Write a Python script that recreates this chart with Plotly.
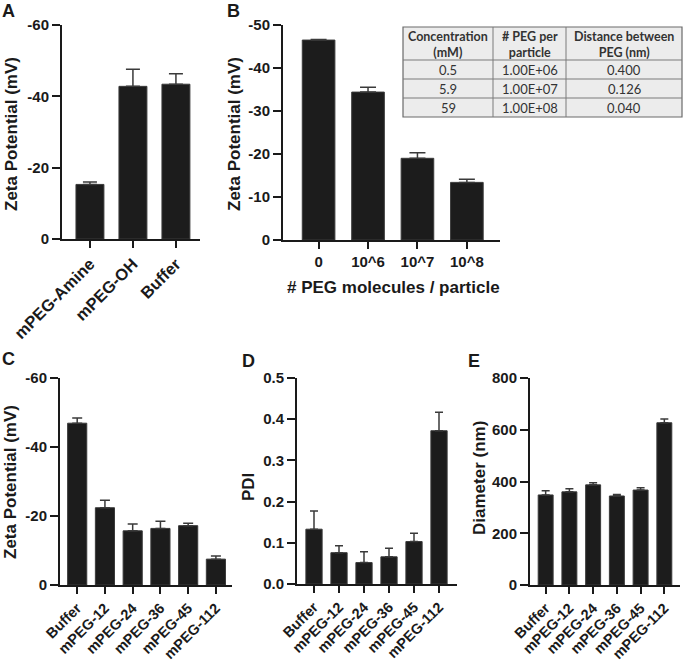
import plotly.graph_objects as go

W, H = 685, 662

# ---------------- data ----------------
# Panel A
a_categories = ["mPEG-Amine", "mPEG-OH", "Buffer"]
a_zeta = [-15.3, -42.8, -43.4]
a_err = [0.7, 4.8, 2.9]
a_ticks = [0, -20, -40, -60]
a_ticklabels = ["0", "-20", "-40", "-60"]

# Panel B
b_categories = ["0", "10^6", "10^7", "10^8"]
b_zeta = [-46.5, -34.4, -19.0, -13.4]
b_err = [0.15, 1.1, 1.3, 0.7]
b_ticks = [0, -10, -20, -30, -40, -50]
b_ticklabels = ["0", "-10", "-20", "-30", "-40", "-50"]

# Table in panel B
table_header = ["Concentration<br>(mM)", "# PEG per<br>particle", "Distance between<br>PEG (nm)"]
table_conc = ["0.5", "5.9", "59"]
table_peg = ["1.00E+06", "1.00E+07", "1.00E+08"]
table_dist = ["0.400", "0.126", "0.040"]

# Panels C, D, E
peg_categories = ["Buffer", "mPEG-12", "mPEG-24", "mPEG-36", "mPEG-45", "mPEG-112"]
c_zeta = [-46.9, -22.4, -15.7, -16.4, -17.2, -7.5]
c_err = [1.5, 2.2, 2.0, 2.1, 0.7, 0.9]
c_ticks = [0, -20, -40, -60]
c_ticklabels = ["0", "-20", "-40", "-60"]

d_pdi = [0.133, 0.076, 0.052, 0.066, 0.103, 0.372]
d_err = [0.044, 0.017, 0.026, 0.021, 0.020, 0.045]
d_ticks = [0, 0.1, 0.2, 0.3, 0.4, 0.5]
d_ticklabels = ["0.0", "0.1", "0.2", "0.3", "0.4", "0.5"]

e_diam = [348, 360, 387, 344, 367, 627]
e_err = [16, 12, 8, 6, 9, 15]
e_ticks = [0, 200, 400, 600, 800]
e_ticklabels = ["0", "200", "400", "600", "800"]

# ---------------- helpers ----------------
def px(x):
    return x / W

def py(y):
    return 1 - y / H

FONT = "Liberation Sans, Arial, sans-serif"
TFONT = "Lato, sans-serif"
BAR_COLOR = "#1c1c1c"
AX_COLOR = "#1a1a1a"
ERR_COLOR = "#3a3a3a"

fig = go.Figure()

def add_bars(cats, vals, errs, xa, ya, width, up_negative=False, capw=5):
    if up_negative:
        err = dict(type="data", symmetric=False, array=[0] * len(errs), arrayminus=errs,
                   color=ERR_COLOR, thickness=1.5, width=capw)
    else:
        err = dict(type="data", symmetric=False, array=errs, arrayminus=[0] * len(errs),
                   color=ERR_COLOR, thickness=1.5, width=capw)
    fig.add_trace(go.Bar(
        x=cats, y=vals, error_y=err, width=width,
        marker=dict(color=BAR_COLOR, line=dict(color="#3a3a3a", width=1)),
        xaxis=xa, yaxis=ya, showlegend=False, hoverinfo="skip"))

add_bars(a_categories, a_zeta, a_err, "x", "y", 0.65, True, 7)
add_bars(b_categories, b_zeta, b_err, "x2", "y2", 0.66, True, 8)
add_bars(peg_categories, c_zeta, c_err, "x3", "y3", 0.69, True, 5)
add_bars(peg_categories, d_pdi, d_err, "x4", "y4", 0.65, False, 4)
add_bars(peg_categories, e_diam, e_err, "x5", "y5", 0.63, False, 4)

tickfont = dict(family=FONT, size=15, color="#1a1a1a", weight="bold")
xtickfont = dict(family=FONT, size=14.5, color="#1a1a1a", weight="bold")

def xaxis(dom, rng, angle, anchor, size=14.5):
    return dict(domain=[px(dom[0]), px(dom[1])], range=rng, anchor=anchor,
                automargin=False,
                showline=True, linecolor=AX_COLOR, linewidth=2,
                ticks="outside", ticklen=7, tickwidth=2, tickcolor=AX_COLOR,
                showgrid=False, zeroline=False, tickangle=angle,
                tickfont=dict(xtickfont, size=size),
                fixedrange=True)

def yaxis(dom, rng, tv, tt, anchor):
    return dict(domain=[py(dom[1]), py(dom[0])], range=rng, anchor=anchor,
                automargin=False,
                tickvals=tv, ticktext=tt,
                showline=True, linecolor=AX_COLOR, linewidth=2,
                ticks="outside", ticklen=8, tickwidth=2, tickcolor=AX_COLOR,
                showgrid=False, zeroline=False, tickfont=tickfont, fixedrange=True)

fig.update_layout(
    template="none",
    width=W, height=H,
    margin=dict(l=0, r=0, t=0, b=0, autoexpand=False),
    paper_bgcolor="white", plot_bgcolor="white",
    font=dict(family=FONT),
    xaxis=xaxis((62, 200), [-0.65, 2.56], -45, "y", 16.5),
    yaxis=yaxis((25, 239), [0, -60], a_ticks, a_ticklabels, "x"),
    xaxis2=xaxis((283, 500), [-0.72, 3.67], 0, "y2", 15),
    yaxis2=yaxis((25, 240), [0, -50], b_ticks, b_ticklabels, "x2"),
    xaxis3=xaxis((60, 232), [-0.62, 5.58], -45, "y3"),
    yaxis3=yaxis((378, 585), [0, -60], c_ticks, c_ticklabels, "x3"),
    xaxis4=xaxis((297, 457), [-0.68, 5.72], -45, "y4"),
    yaxis4=yaxis((378, 584), [0, 0.5], d_ticks, d_ticklabels, "x4"),
    xaxis5=xaxis((530, 680), [-0.66, 5.66], -45, "y5"),
    yaxis5=yaxis((378, 585), [0, 800], e_ticks, e_ticklabels, "x5"),
)

def ann(text, x, y, size, angle=0, family=FONT, bold=True, color="#1a1a1a"):
    fig.add_annotation(text=text, x=px(x), y=py(y), xref="paper", yref="paper",
                       showarrow=False, textangle=angle, xanchor="center", yanchor="middle",
                       font=dict(family=family, size=size, color=color,
                                 weight="bold" if bold else "normal"))

# panel letters
ann("A", 8.5, 10.5, 18)
ann("B", 233, 10.5, 18)
ann("C", 8.5, 359, 18)
ann("D", 248, 361, 18)
ann("E", 474, 361, 18)

# axis titles
ann("Zeta Potential (mV)", 11, 134, 17, -90)
ann("Zeta Potential (mV)", 234, 134, 17, -90)
ann("# PEG molecules / particle", 393, 288, 17)
ann("Zeta Potential (mV)", 10, 482, 17, -90)
ann("PDI", 248, 487, 17, -90)
ann("Diameter (nm)", 479, 478, 17, -90)

# ---------------- table (panel B inset) ----------------
col_edges = [403, 493, 566, 682]
row_edges = [27, 60, 79, 98, 117]
LINE = dict(color="#7a7a7a", width=1)
fig.add_shape(type="rect", xref="paper", yref="paper",
              x0=px(col_edges[0]), x1=px(col_edges[-1]),
              y0=py(row_edges[-1]), y1=py(row_edges[0]),
              fillcolor="#ececec", line=dict(color="#6a6a6a", width=1.2), layer="below")
for cx in col_edges[1:-1]:
    fig.add_shape(type="line", xref="paper", yref="paper", x0=px(cx), x1=px(cx),
                  y0=py(row_edges[-1]), y1=py(row_edges[0]), line=LINE)
for ry in row_edges[1:-1]:
    fig.add_shape(type="line", xref="paper", yref="paper", x0=px(col_edges[0]), x1=px(col_edges[-1]),
                  y0=py(ry), y1=py(ry), line=LINE)

columns = [table_conc, table_peg, table_dist]
for ci in range(3):
    cxm = (col_edges[ci] + col_edges[ci + 1]) / 2
    ann(table_header[ci], cxm, (row_edges[0] + row_edges[1]) / 2 + 0.5, 12.5,
        family=TFONT, bold=True, color="#333333")
    for ri, val in enumerate(columns[ci]):
        rym = (row_edges[ri + 1] + row_edges[ri + 2]) / 2
        ann(val, cxm, rym + 0.5, 13, family=TFONT, bold=False, color="#333333")

fig.write_html("out.html", config={"displayModeBar": False},
               post_script="document.body.style.margin='0px';document.body.style.overflow='hidden';")
